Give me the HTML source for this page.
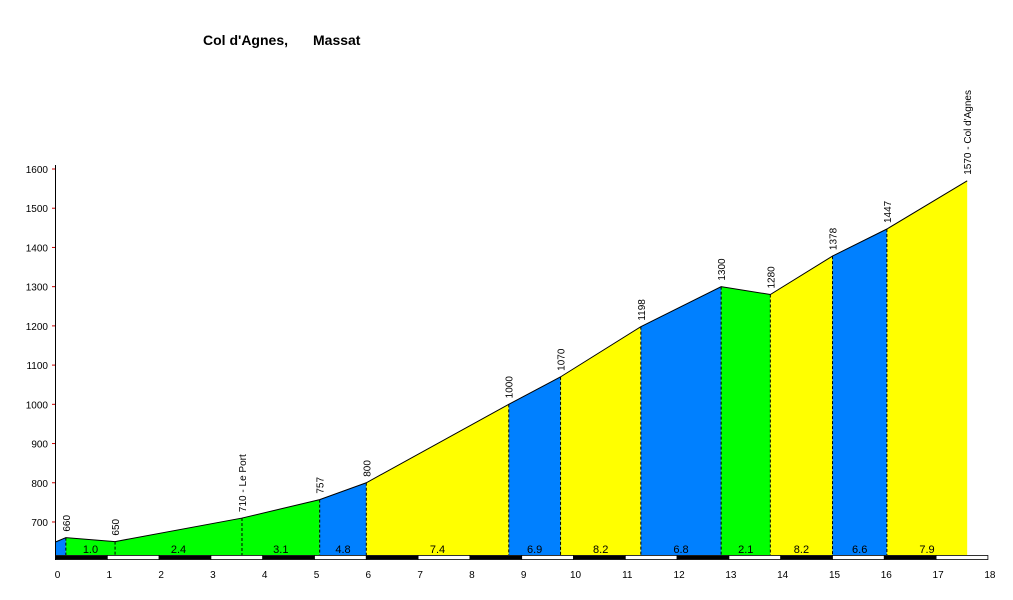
<!DOCTYPE html>
<html><head><meta charset="utf-8"><style>
body{margin:0;background:#fff;}
svg{display:block;font-family:"Liberation Sans",sans-serif;}
</style></head><body>
<svg id="chart" width="1013" height="600" viewBox="0 0 1013 600">
<text x="203" y="45" font-size="14" font-weight="bold">Col d'Agnes,</text>
<text x="313" y="45" font-size="14" font-weight="bold">Massat</text>
<g id="plot"></g>
</svg>
<script>
const kms=[0,0.2,1.15,3.6,5.1,6.0,8.75,9.75,11.3,12.85,13.8,15.0,16.05,17.6];
const elevs=[649,660,650,710,757,800,1000,1070,1198,1300,1280,1378,1447,1570];
const pointLabels=["","660","650","710 - Le Port","757","800","1000","1070","1198","1300","1280","1378","1447","1570 - Col d'Agnes"];
const gradients=["","1.0","2.4","3.1","4.8","7.4","6.9","8.2","6.8","2.1","8.2","6.6","7.9"];
const segColors=["#0080ff","#00ff00","#00ff00","#00ff00","#0080ff","#ffff00","#0080ff","#ffff00","#0080ff","#00ff00","#ffff00","#0080ff","#ffff00"];
const yTicks=[700,800,900,1000,1100,1200,1300,1400,1500,1600];
const xTicks=[0,1,2,3,4,5,6,7,8,9,10,11,12,13,14,15,16,17,18];
const NS="http://www.w3.org/2000/svg";
const g=document.getElementById('plot');
const X=k=>55.5+k*51.8;
const Y=v=>169+(1600-v)*0.3922;
const BASE=555;
function mk(t,a){const e=document.createElementNS(NS,t);for(const k in a)e.setAttribute(k,a[k]);g.appendChild(e);return e;}
for(let i=0;i<kms.length-1;i++){
 const p=mk('polygon',{points:`${X(kms[i])},${BASE} ${X(kms[i])},${Y(elevs[i])} ${X(kms[i+1])},${Y(elevs[i+1])} ${X(kms[i+1])},${BASE}`,fill:segColors[i]});
 
 
 if(gradients[i]){const t=mk('text',{x:(X(kms[i])+X(kms[i+1]))/2,y:553,'font-size':11,'text-anchor':'middle'});t.textContent=gradients[i];
 
 }
}
for(let i=1;i<kms.length-1;i++){
 const l=mk('line',{x1:X(kms[i]),x2:X(kms[i]),y1:Y(elevs[i]),y2:BASE,stroke:'#000','stroke-dasharray':'3,2'});
 
 
}
const pl=mk('polyline',{points:kms.map((k,i)=>X(k)+','+Y(elevs[i])).join(' '),fill:'none',stroke:'#000','stroke-width':1});


for(let i=1;i<kms.length;i++){
 const x=X(kms[i])+4,y=Y(elevs[i])-6;
 const t=mk('text',{x:x,y:y,'font-size':10,transform:`rotate(-90 ${x} ${y})`});t.textContent=pointLabels[i];
 
 
}
const ax=mk('line',{x1:55.5,x2:55.5,y1:165,y2:560,stroke:'#000'});


yTicks.forEach(v=>{
 const tk=mk('line',{x1:52,x2:55,y1:Y(v),y2:Y(v),stroke:'#c00'});
 
 
 const t=mk('text',{x:48,y:Y(v)+4,'font-size':10,'text-anchor':'end'});t.textContent=v;
 
 
});
xTicks.slice(0,-1).forEach(k=>{
 const r=mk('rect',{x:X(k),y:555.5,width:51.8,height:4,fill:k%2===0?'#000':'#fff',stroke:'#000','stroke-width':0.8});
 
 
});
xTicks.forEach(k=>{
 const t=mk('text',{x:X(k)+2,y:578,'font-size':10,'text-anchor':'middle'});t.textContent=k;
 
 
});
</script>
</body></html>
